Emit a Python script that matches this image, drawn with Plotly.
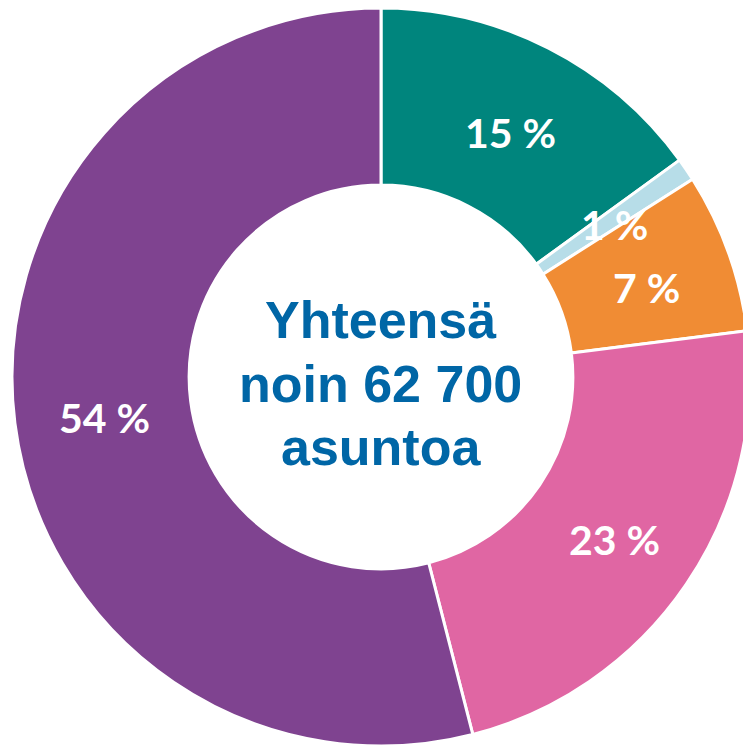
import math
import plotly.graph_objects as go

categories = ["A", "B", "C", "D", "E"]
values = [15, 1, 7, 23, 54]
labels_text = ["15 %", "1 %", "7 %", "23 %", "54 %"]
colors = ["#00857D", "#B7DDE8", "#F08C34", "#E066A3", "#7F4390"]
center_lines = ["Yhteensä", "noin 62 700", "asuntoa"]

W, H = 760, 760
cx, cy, r = 381, 377, 369
hole = 0.52
label_size = 41

fig = go.Figure(go.Pie(
    labels=categories,
    values=values,
    textinfo="none",
    sort=False,
    direction="clockwise",
    rotation=0,
    hole=hole,
    marker=dict(colors=colors, line=dict(color="white", width=3)),
    domain=dict(x=[(cx - r) / W, (cx + r) / W],
                y=[(H - (cy + r)) / H, (H - (cy - r)) / H]),
    showlegend=False,
    hoverinfo="skip",
))

# slice labels at each slice's mid-angle, mid-ring radius (derived from data)
total = sum(values)
cum = 0
rm = r * (1 + hole) / 2
for v, t in zip(values, labels_text):
    frac = (cum + v / 2) / total
    ang = 2 * math.pi * frac
    px = cx + rm * math.sin(ang)
    py = cy - rm * math.cos(ang)
    fig.add_annotation(
        x=px / W, y=(H - py) / H, xref="paper", yref="paper",
        xanchor="center", yanchor="middle",
        text=t, showarrow=False, xshift=2, yshift=-5,
        font=dict(family="Lato", size=label_size, color="white", weight="bold"),
    )
    cum += v

line_offsets = [-57, 7, 70]
for txt, off in zip(center_lines, line_offsets):
    fig.add_annotation(
        x=cx / W, y=(H - (cy + off)) / H, xref="paper", yref="paper",
        xanchor="center", yanchor="middle",
        text=txt, showarrow=False,
        font=dict(family="Liberation Sans", size=52, color="#0066A6", weight="bold"),
        align="center",
    )

fig.update_layout(
    width=W, height=H,
    margin=dict(l=0, r=0, t=0, b=0),
    paper_bgcolor="white", plot_bgcolor="white",
)

fig.write_html("out.html", config={"displayModeBar": False},
               post_script="document.body.style.margin='0';document.body.style.overflow='hidden';")
